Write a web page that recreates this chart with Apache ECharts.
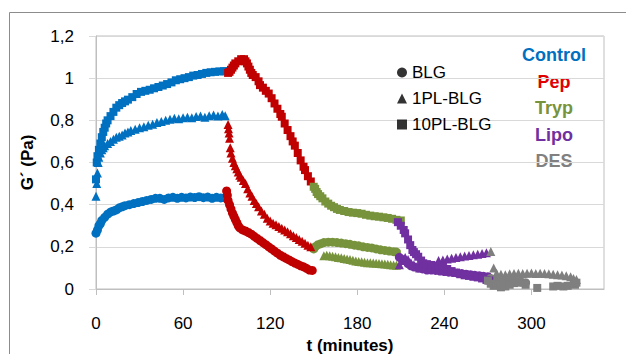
<!DOCTYPE html>
<html>
<head>
<meta charset="utf-8">
<script src="https://cdn.jsdelivr.net/npm/echarts@6/dist/echarts.min.js"></script>
<style>
  html, body { margin: 0; padding: 0; background: #fff; }
  #chart { width: 626px; height: 354px; }
</style>
</head>
<body>
<div id="chart"></div>
<script type="text/javascript">
// phases of digestion and samples
var phaseNames = ['Control', 'Pep', 'Tryp', 'Lipo', 'DES'];
var sampleNames = ['BLG', '1PL-BLG', '10PL-BLG'];
var xTicks = [0, 60, 120, 180, 240, 300];

// BLG (circles), [t (min), G' (Pa)]
var blgControl = [[0,0.265],[1,0.28],[2,0.3],[3,0.31],[4,0.325],[6,0.34],[8,0.355],[10,0.365],[12,0.37],[14,0.375],[16,0.385],[18,0.39],[20,0.395],[23,0.4],[26,0.405],[29,0.41],[32,0.415],[35,0.42],[38,0.425],[41,0.43],[44,0.43],[47,0.425],[50,0.432],[53,0.435],[56,0.43],[59,0.435],[62,0.432],[65,0.436],[68,0.434],[71,0.438],[74,0.433],[77,0.436],[80,0.43],[83,0.435],[86,0.432],[89,0.432]];
var blgPep = [[90,0.465],[90.5,0.445],[91,0.42],[92,0.4],[93,0.38],[94,0.36],[95,0.345],[96,0.33],[97,0.315],[98,0.3],[99,0.29],[101,0.28],[103,0.275],[105,0.268],[107,0.26],[109,0.25],[111,0.24],[113,0.23],[115,0.22],[117,0.21],[119,0.2],[121,0.19],[123,0.18],[125,0.17],[127,0.16],[129,0.153],[131,0.145],[133,0.138],[135,0.13],[137,0.123],[139,0.117],[141,0.11],[143,0.105],[145,0.098],[147,0.09],[149,0.088]];
var blgTryp = [[150,0.19],[151,0.2],[153,0.21],[155,0.215],[157,0.22],[160,0.222],[163,0.222],[166,0.22],[169,0.218],[172,0.215],[175,0.212],[178,0.208],[181,0.205],[184,0.2],[187,0.197],[190,0.195],[193,0.19],[196,0.186],[199,0.183],[202,0.18],[205,0.177],[207,0.175]];
var blgLipo = [[209,0.15],[211,0.14],[213,0.135],[215,0.12],[217,0.11],[219,0.105],[222,0.1],[225,0.095],[228,0.09],[231,0.09],[234,0.088],[237,0.085],[240,0.083],[243,0.08],[246,0.078],[249,0.075],[252,0.073],[255,0.07],[258,0.068],[261,0.065],[264,0.063],[267,0.06],[270,0.058]];
var blgDes = [[272,0.05],[275,0.045],[278,0.04],[281,0.04],[284,0.038],[287,0.035],[290,0.035],[293,0.033],[296,0.03]];

// 1PL-BLG (triangles)
var pl1Control = [[0,0.44],[0.5,0.5],[1,0.55],[1.5,0.6],[2,0.625],[3,0.645],[4,0.66],[5,0.67],[6,0.68],[8,0.69],[10,0.7],[12,0.71],[14,0.72],[16,0.725],[18,0.73],[20,0.74],[22,0.745],[24,0.752],[27,0.758],[30,0.765],[33,0.77],[36,0.777],[39,0.782],[42,0.79],[45,0.795],[48,0.8],[51,0.805],[54,0.81],[57,0.808],[60,0.812],[63,0.815],[66,0.812],[69,0.818],[72,0.82],[75,0.815],[78,0.822],[81,0.825],[84,0.82],[87,0.828],[89,0.822]];
var pl1Pep = [[91,0.78],[91.3,0.76],[91.7,0.74],[92,0.715],[92.5,0.67],[93,0.645],[94,0.62],[95,0.6],[96,0.585],[97,0.57],[98,0.555],[99,0.54],[100,0.53],[101.5,0.515],[103,0.5],[104.5,0.475],[106,0.455],[107.5,0.44],[109,0.42],[110.5,0.405],[112,0.39],[114,0.37],[116,0.355],[118,0.335],[120,0.322],[122,0.312],[124,0.305],[126,0.296],[128,0.288],[130,0.28],[132,0.271],[134,0.262],[136,0.253],[138,0.244],[140,0.235],[142,0.226],[144,0.217],[146,0.208],[148,0.2]];
var pl1Tryp = [[157,0.158],[159,0.16],[161,0.158],[163,0.155],[165,0.153],[167,0.15],[169,0.148],[171,0.145],[173,0.142],[175,0.14],[177,0.136],[179,0.133],[181,0.131],[183,0.129],[185,0.127],[187,0.125],[189,0.124],[191,0.123],[193,0.122],[195,0.121],[197,0.12],[199,0.118],[201,0.117],[203,0.115],[205,0.114],[207,0.113]];
var pl1Lipo = [[209,0.115],[211,0.135],[213,0.15],[215,0.14],[217,0.125],[219,0.115],[221,0.105],[223,0.1],[236,0.135],[239,0.138],[242,0.142],[245,0.146],[248,0.15],[251,0.153],[254,0.156],[257,0.159],[260,0.162],[263,0.165],[266,0.168],[269,0.172]];
var pl1Des = [[272,0.178],[274,0.1],[276,0.075],[279,0.07],[282,0.068],[285,0.072],[288,0.074],[291,0.075],[294,0.073],[297,0.075],[300,0.076],[303,0.074],[306,0.075],[309,0.073],[312,0.072],[315,0.07],[318,0.068],[321,0.066],[324,0.063],[327,0.058],[329,0.05],[331,0.045]];

// 10PL-BLG (squares)
var pl10Control = [[0,0.52],[0.5,0.6],[1,0.63],[2,0.66],[3,0.69],[4,0.72],[5,0.745],[6,0.765],[7,0.785],[8,0.8],[10,0.82],[12,0.84],[14,0.86],[16,0.872],[18,0.882],[20,0.89],[22,0.898],[25,0.91],[28,0.925],[31,0.935],[34,0.94],[37,0.945],[40,0.952],[43,0.958],[46,0.965],[49,0.972],[52,0.98],[55,0.99],[58,0.995],[61,1.0],[64,1.005],[67,1.012],[70,1.015],[73,1.02],[76,1.025],[79,1.028],[82,1.03],[85,1.032],[88,1.033],[90,1.033]];
var pl10Pep = [[91,1.025],[92,1.03],[93,1.04],[94,1.05],[95,1.06],[96,1.07],[98,1.08],[100,1.09],[102,1.09],[103,1.08],[104,1.07],[105,1.055],[106,1.04],[107,1.025],[108,1.015],[110,1.005],[112,0.985],[113,0.967],[115,0.955],[117,0.94],[119,0.927],[121,0.905],[123,0.88],[125,0.855],[127,0.83],[128,0.817],[130,0.785],[132,0.754],[134,0.725],[135.5,0.7],[137,0.68],[139,0.645],[141,0.61],[143,0.58],[144,0.564],[146,0.535],[148,0.51]];
var pl10Tryp = [[150,0.485],[151,0.475],[152,0.46],[153,0.45],[154.5,0.44],[156,0.43],[158,0.415],[160,0.405],[162,0.395],[164,0.388],[166,0.38],[168,0.375],[171,0.37],[174,0.365],[177,0.362],[180,0.36],[183,0.357],[186,0.352],[189,0.348],[192,0.345],[195,0.343],[198,0.34],[201,0.337],[204,0.333],[207,0.328],[210,0.325]];
var pl10Lipo = [[208,0.317],[210,0.3],[212,0.28],[213,0.264],[215,0.235],[216.5,0.208],[218,0.185],[219,0.175],[220.5,0.165],[222,0.153],[224,0.135],[225.5,0.122],[228,0.118],[231,0.114],[236,0.11],[239,0.105],[242,0.095],[245,0.085],[248,0.078],[251,0.07],[254,0.065],[257,0.062],[260,0.058],[263,0.055],[266,0.05],[269,0.043],[271,0.04]];
var pl10Des = [[270,0.04],[272,0.025],[274,0.015],[276,0.02],[279,0.008],[282,0.012],[285,0.02],[288,0.028],[292,0.03],[296,0.02],[304,0.005],[315,0.012],[318,0.015],[322,0.012],[325,0.015],[330,0.02],[331,0.03]];

var allData = [
    [blgControl, blgPep, blgTryp, blgLipo, blgDes],
    [pl1Control, pl1Pep, pl1Tryp, pl1Lipo, pl1Des],
    [pl10Control, pl10Pep, pl10Tryp, pl10Lipo, pl10Des]
];

// styles
var phaseColors = ['#0070C0', '#C00000', '#77933C', '#7030A0', '#7F7F7F'];
var phaseTextColors = ['#0070C0', '#E00000', '#77933C', '#7030A0', '#808080'];
var sampleSymbols = ['circle', 'triangle', 'rect'];
var sampleSizes = [9, 9, 8];
var FONT = 'Liberation Sans';

var chart = echarts.init(document.getElementById('chart'), null, {renderer: 'svg'});

var series = [];
allData.forEach(function (phases, s) {
    phases.forEach(function (pts, p) {
        series.push({
            type: 'scatter',
            name: phaseNames[p] + ' ' + sampleNames[s],
            symbol: sampleSymbols[s],
            symbolSize: sampleSizes[s],
            data: pts,
            itemStyle: {color: phaseColors[p], opacity: 1},
            silent: true
        });
    });
});
// empty series only for the black shape legend
sampleNames.forEach(function (n, s) {
    series.push({type: 'scatter', name: n, symbol: sampleSymbols[s], data: [], itemStyle: {color: '#000'}});
});

// coloured phase labels, top right
var phaseTexts = phaseNames.map(function (n, i) {
    return {
        type: 'text', x: 554, y: 55 + i * 26.5,
        style: {text: n, fill: phaseTextColors[i], font: 'bold 18px "' + FONT + '"', textAlign: 'center', textVerticalAlign: 'middle'}
    };
});

var option = {
    animation: false,
    textStyle: {fontFamily: FONT},
    grid: {
        left: 96, right: 22, top: 36, bottom: 65, outerBoundsMode: 'none',
        show: true, borderColor: '#bfbfbf', borderWidth: 1
    },
    legend: {
        orient: 'vertical', left: 397, top: 64, itemWidth: 10, itemHeight: 10, itemGap: 9,
        padding: 0, selectedMode: false,
        textStyle: {fontSize: 17, color: '#000'},
        data: sampleNames.map(function (n, s) { return {name: n, icon: sampleSymbols[s]}; })
    },
    xAxis: {
        type: 'value', min: 0, max: 350, interval: 60,
        name: 't (minutes)', nameLocation: 'middle', nameGap: 41,
        nameTextStyle: {fontSize: 17, fontWeight: 'bold', color: '#000', lineHeight: 17},
        axisLine: {show: true, lineStyle: {color: '#bfbfbf'}},
        axisTick: {show: true, length: 6, lineStyle: {color: '#bfbfbf'}, customValues: xTicks},
        axisLabel: {fontSize: 17, color: '#000', margin: 26, customValues: xTicks},
        splitLine: {show: false}
    },
    yAxis: {
        type: 'value', min: 0, max: 1.2, interval: 0.2,
        name: 'G´ (Pa)', nameLocation: 'middle', nameGap: 60, nameRotate: 90,
        nameTextStyle: {fontSize: 17, fontWeight: 'bold', color: '#000'},
        axisLine: {show: true, lineStyle: {color: '#bfbfbf'}},
        axisTick: {show: true, length: 7, lineStyle: {color: '#d9d9d9'}},
        axisLabel: {
            fontSize: 17, color: '#000', margin: 22,
            formatter: function (v) { return String(+v.toFixed(1)).replace('.', ','); }
        },
        splitLine: {show: true, lineStyle: {color: '#d9d9d9'}}
    },
    graphic: [
        {type: 'rect', shape: {x: 9.5, y: 12.5, width: 700, height: 400}, style: {fill: 'none', stroke: '#8c8c8c', lineWidth: 1}, silent: true, z: -1}
    ].concat(phaseTexts),
    series: series
};

chart.setOption(option);
</script>
</body>
</html>
